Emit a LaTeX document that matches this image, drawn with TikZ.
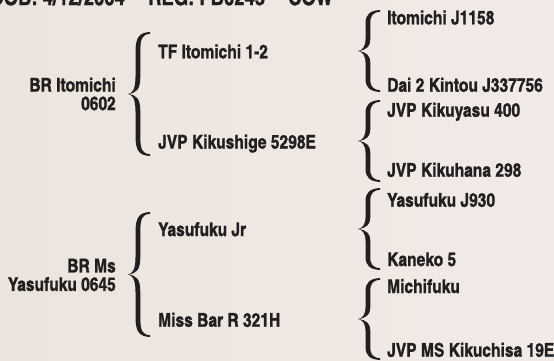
\documentclass[tikz,border=0pt]{standalone}
\usepackage{fontspec}
\setmainfont{texgyreheroscn-bold.otf}[FakeBold=1.2]
\definecolor{ink}{HTML}{231F20}
\definecolor{bgL}{HTML}{ECE5DD}
\definecolor{bgR}{HTML}{F2EAE7}
\newcommand\mybrace[3]{%
 \pgfmathsetmacro\bxL{#1}\pgfmathsetmacro\bxT{#2}\pgfmathsetmacro\bxB{#3}%
 \pgfmathsetmacro\bxM{(\bxT+\bxB)/2}\pgfmathsetmacro\bxH{\bxB-\bxT}%
 \pgfmathsetmacro\bxR{\bxL+22}\pgfmathsetmacro\bxO{\bxL+7.5}\pgfmathsetmacro\bxI{\bxL+12.3}%
 \pgfmathsetmacro\bxA{\bxT+0.16*\bxH}\pgfmathsetmacro\bxC{\bxM-0.14*\bxH}%
 \pgfmathsetmacro\bxD{\bxM+0.14*\bxH}\pgfmathsetmacro\bxE{\bxB-0.16*\bxH}%
 \fill[ink] (\bxR,\bxT) .. controls (\bxO+4,\bxT+0.5) and (\bxO,\bxT+5) .. (\bxO,\bxA)
   -- (\bxO,\bxC) .. controls (\bxO,\bxM-4) and (\bxL+4,\bxM-0.6) .. (\bxL,\bxM)
   .. controls (\bxL+4,\bxM+0.6) and (\bxO,\bxM+4) .. (\bxO,\bxD)
   -- (\bxO,\bxE) .. controls (\bxO,\bxB-5) and (\bxO+4,\bxB-0.5) .. (\bxR,\bxB)
   -- (\bxR,\bxB-1.8) .. controls (\bxI+2,\bxB-2.5) and (\bxI,\bxB-6) .. (\bxI,\bxE)
   -- (\bxI,\bxD) .. controls (\bxI,\bxM+5) and (\bxL+9,\bxM+1) .. (\bxL,\bxM)
   .. controls (\bxL+9,\bxM-1) and (\bxI,\bxM-5) .. (\bxI,\bxC)
   -- (\bxI,\bxA) .. controls (\bxI,\bxT+6) and (\bxI+2,\bxT+2.5) .. (\bxR,\bxT+1.8) -- cycle;%
}
\begin{document}
\begin{tikzpicture}[x=1pt,y=-1pt,
  lbl/.style={inner sep=0pt, font=\fontsize{19}{18.5}\selectfont, text=ink, anchor=base west},
  hdr/.style={lbl, font=\fontsize{22.5}{24}\selectfont},
  sire/.style={lbl, anchor=east, align=right}]
\useasboundingbox (0,0) rectangle (554,360);
\shade[left color=bgL, right color=bgR] (0,0) rectangle (554,360);
\clip (0,0) rectangle (554,360);
% header
\node[hdr, anchor=base east] (dob) at (125,5) {DOB: 4/12/2004};
\node[hdr] (reg) at (148,5) {REG: FB0245};
\node[hdr] (cow) at (288,5) {COW};
% generation 1
\node[sire] (s) at (116,94) {BR Itomichi\\0602};
\node[sire] (d) at (116,275) {BR Ms\\Yasufuku 0645};
% generation 2
\node[lbl] (ss) at (158,58.3) {TF Itomichi 1-2};
\node[lbl] (sd) at (158,148.5) {JVP Kikushige 5298E};
\node[lbl] (ds) at (158,236) {Yasufuku Jr};
\node[lbl] (dd) at (158,326.7) {Miss Bar R 321H};
% generation 3
\node[lbl] (sss) at (387,24.3) {Itomichi J1158};
\node[lbl] (ssd) at (387,91.7) {Dai 2 Kintou J337756};
\node[lbl] (sds) at (387,116.7) {JVP Kikuyasu 400};
\node[lbl] (sdd) at (387,176.7) {JVP Kikuhana 298};
\node[lbl] (dss) at (387,206.7) {Yasufuku J930};
\node[lbl] (dsd) at (387,266) {Kaneko 5};
\node[lbl] (dds) at (387,293) {Michifuku};
\node[lbl] (ddd) at (387,356.7) {JVP MS Kikuchisa 19E};
% braces
\mybrace{128}{32}{156}
\mybrace{128}{212}{337}
\mybrace{358}{10}{92}
\mybrace{358}{100}{182}
\mybrace{358}{188}{270}
\mybrace{358}{278}{360}
\end{tikzpicture}
\end{document}
